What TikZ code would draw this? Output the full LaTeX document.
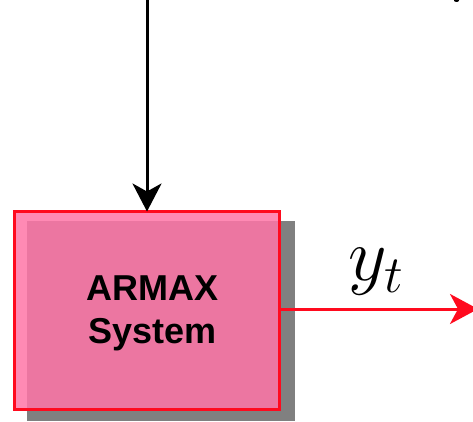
\RequirePackage{fix-cm}
\documentclass[tikz,border=0pt]{standalone}
\usepackage{fontspec}
\newfontfamily\arialfont{Liberation Sans}
\usetikzlibrary{arrows.meta}
\definecolor{boxfill}{RGB}{255,117,167}
\definecolor{boxred}{RGB}{255,10,30}
\definecolor{shadowgrey}{RGB}{128,128,128}
\tikzset{
  sysbox/.style={draw=boxred, line width=2.6pt, fill=boxfill, fill opacity=0.85,
    minimum width=265pt, minimum height=198pt, inner sep=0pt, outer sep=0pt},
  shadowbox/.style={fill=shadowgrey, draw=none, minimum width=268pt, minimum height=200pt, inner sep=0pt},
  inarrow/.style={line width=3pt, black, -{Stealth[length=28pt, width=29pt, inset=8pt]}},
  outarrow/.style={line width=3pt, boxred, -{Stealth[length=28pt, width=30pt, inset=8pt]}},
  systext/.style={font=\arialfont\bfseries\fontsize{36}{43}\selectfont, align=center, text=black},
  mathlabel/.style={font=\fontsize{75}{82}\selectfont, inner sep=0pt}
}
\begin{document}
\begin{tikzpicture}[x=1pt, y=-1pt]
\useasboundingbox (0,0) rectangle (473,422);
\clip (0,0) rectangle (473,422);
% shadow
\node[shadowbox] (shadow) at (161,321) {};
% system box
\node[sysbox] (sys) at (147,310.5) {};
\node[systext] (lbl) at (152.5,313) {ARMAX\\System};
% arrows
\coordinate (top) at (147,-2);
\coordinate (out) at (478,309);
\draw[inarrow] (top) -- (sys.north);
\draw[outarrow] (sys.east |- out) -- (out);
\node[mathlabel] (yt) at (376,272) {$y_t$};
% fragment at top right
\fill[black] (456.5,0.5) ellipse (2.5pt and 1.5pt);
\end{tikzpicture}
\end{document}
